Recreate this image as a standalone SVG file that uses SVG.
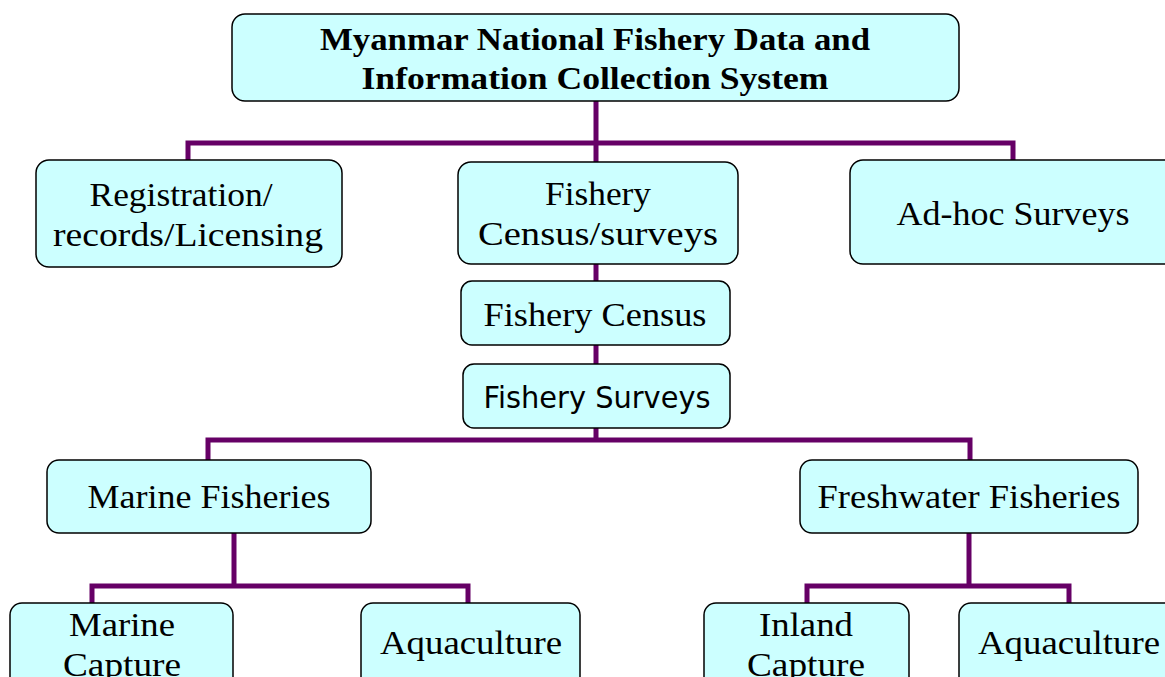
<svg xmlns="http://www.w3.org/2000/svg" width="1165" height="677" viewBox="0 0 1165 677">
<style>
.box{fill:#ccffff;stroke:#000;stroke-width:1.5}
.t{font-family:"Liberation Serif","Times New Roman",serif;font-size:33px;fill:#000;text-anchor:middle}
.b{font-weight:bold;font-size:32px}
.s{font-family:"DejaVu Sans",Verdana,sans-serif;font-size:30px;fill:#000;text-anchor:middle}
.c{fill:none;stroke:#660066;stroke-width:5}
</style>
<rect width="1165" height="677" fill="#fff"/>
<g id="connectors">
<path class="c" d="M596 101V162M188 160V143H1013V160"/>
<path class="c" d="M596 264V282"/>
<path class="c" d="M596 345V364" stroke="#220022"/>
<path class="c" d="M596 428V440M208 460V440H970V460"/>
<path class="c" d="M234 533V586M92 604V586H468V604"/>
<path class="c" d="M969 533V586M807 604V586H1069V604"/>
</g>
<g id="root">
<rect class="box" x="232" y="14" width="727" height="87" rx="13"/>
<text class="t b" x="595" y="50" textLength="550" lengthAdjust="spacingAndGlyphs">Myanmar National Fishery Data and</text>
<text class="t b" x="595" y="89" textLength="467" lengthAdjust="spacingAndGlyphs">Information Collection System</text>
</g>
<g id="registration">
<rect class="box" x="36" y="160" width="306" height="107" rx="13"/>
<text class="t" x="181" y="206" textLength="183" lengthAdjust="spacingAndGlyphs">Registration/</text>
<text class="t" x="188" y="246" textLength="270" lengthAdjust="spacingAndGlyphs">records/Licensing</text>
</g>
<g id="census-surveys">
<rect class="box" x="458" y="162" width="280" height="102" rx="13"/>
<text class="t" x="598" y="205" textLength="106" lengthAdjust="spacingAndGlyphs">Fishery</text>
<text class="t" x="598" y="245" textLength="240" lengthAdjust="spacingAndGlyphs">Census/surveys</text>
</g>
<g id="adhoc">
<rect class="box" x="850" y="160" width="330" height="104" rx="13"/>
<text class="t" x="1013" y="225" textLength="233" lengthAdjust="spacingAndGlyphs">Ad-hoc Surveys</text>
</g>
<g id="census">
<rect class="box" x="461" y="281" width="269" height="64" rx="11"/>
<text class="t" x="595" y="326" textLength="223" lengthAdjust="spacingAndGlyphs">Fishery Census</text>
</g>
<g id="surveys">
<rect class="box" x="463" y="364" width="267" height="64" rx="11"/>
<text class="s" x="597" y="408" textLength="227" lengthAdjust="spacingAndGlyphs">Fishery Surveys</text>
</g>
<g id="marine">
<rect class="box" x="47" y="460" width="324" height="73" rx="12"/>
<text class="t" x="209" y="508" textLength="243" lengthAdjust="spacingAndGlyphs">Marine Fisheries</text>
</g>
<g id="freshwater">
<rect class="box" x="800" y="460" width="338" height="73" rx="12"/>
<text class="t" x="969" y="508" textLength="303" lengthAdjust="spacingAndGlyphs">Freshwater Fisheries</text>
</g>
<g id="marine-capture">
<rect class="box" x="10" y="603" width="223" height="90" rx="12"/>
<text class="t" x="122" y="636" textLength="106" lengthAdjust="spacingAndGlyphs">Marine</text>
<text class="t" x="122" y="676" textLength="118" lengthAdjust="spacingAndGlyphs">Capture</text>
</g>
<g id="marine-aquaculture">
<rect class="box" x="361" y="603" width="219" height="90" rx="12"/>
<text class="t" x="471" y="654" textLength="182" lengthAdjust="spacingAndGlyphs">Aquaculture</text>
</g>
<g id="inland-capture">
<rect class="box" x="704" y="603" width="205" height="90" rx="12"/>
<text class="t" x="806" y="636" textLength="94" lengthAdjust="spacingAndGlyphs">Inland</text>
<text class="t" x="806" y="676" textLength="118" lengthAdjust="spacingAndGlyphs">Capture</text>
</g>
<g id="fresh-aquaculture">
<rect class="box" x="959" y="603" width="230" height="90" rx="12"/>
<text class="t" x="1069" y="654" textLength="182" lengthAdjust="spacingAndGlyphs">Aquaculture</text>
</g>
</svg>
